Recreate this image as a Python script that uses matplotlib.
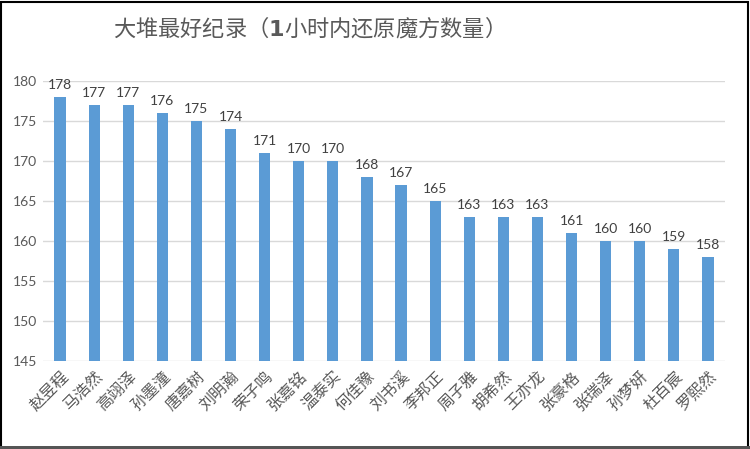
import matplotlib
matplotlib.use("Agg")
import matplotlib.pyplot as plt
from matplotlib.patches import Rectangle

plt.rcParams['font.family'] = ['Noto Sans CJK SC', 'DejaVu Sans']

names = ["赵昱程", "马浩然", "高翊泽", "孙墨潼", "唐嘉树", "刘明瀚", "荣子鸣", "张嘉铭", "温泰实", "何佳豫",
         "刘书溪", "李邦正", "周子雅", "胡希然", "王亦龙", "张豪格", "张瑞泽", "孙梦妍", "杜百宸", "罗熙然"]
values = [178, 177, 177, 176, 175, 174, 171, 170, 170, 168,
          167, 165, 163, 163, 163, 161, 160, 160, 159, 158]
yticks = [145, 150, 155, 160, 165, 170, 175, 180]
title = "大堆最好纪录（$\\mathbf{1}$小时内还原魔方数量）"

W, H = 750, 449
fig = plt.figure(figsize=(W/100, H/100), dpi=100)
ax = fig.add_axes([43/W, 1-361/H, (725-43)/W, (361-81)/H])

gray = '#595959'
x = list(range(len(names)))
bars = ax.bar(x, values, width=0.33, color='#5B9BD5', zorder=3)
ax.set_xlim(-0.5, len(names)-0.5)
ax.set_ylim(145, 180)
ax.set_yticks(yticks)
ax.set_yticklabels([str(v) for v in yticks], fontsize=10, color=gray, fontfamily='Lato')
ax.yaxis.grid(True, color='#D9D9D9', linewidth=1, zorder=0)
ax.tick_params(axis='both', length=0)
ax.tick_params(axis='y', pad=4)
for s in ax.spines.values():
    s.set_visible(False)
ax.set_xticks(x)
ax.set_xticklabels(names, rotation=45, ha='right', rotation_mode='anchor',
                   fontsize=11.5, color=gray, fontweight='light')
ax.tick_params(axis='x', pad=5)

for xi, v in zip(x, values):
    ax.annotate(str(v), (xi, v), xytext=(0, 4), textcoords='offset points',
                ha='center', va='bottom', fontsize=10, color='#404040',
                fontfamily='Lato', clip_on=False)

fig.text(113/W, 1-28/H, title, ha='left', va='center', fontsize=16, color=gray)

fig.patches.append(Rectangle((0.5/W, 0.5/H), 1-2.5/W, 1-2.5/H, transform=fig.transFigure,
                             fill=False, edgecolor='black', linewidth=1.5))
fig.patches.append(Rectangle((0, 0), 1, 3/H, transform=fig.transFigure,
                             fill=True, facecolor='#555555', edgecolor='none'))

fig.savefig('out.png', dpi=100)
